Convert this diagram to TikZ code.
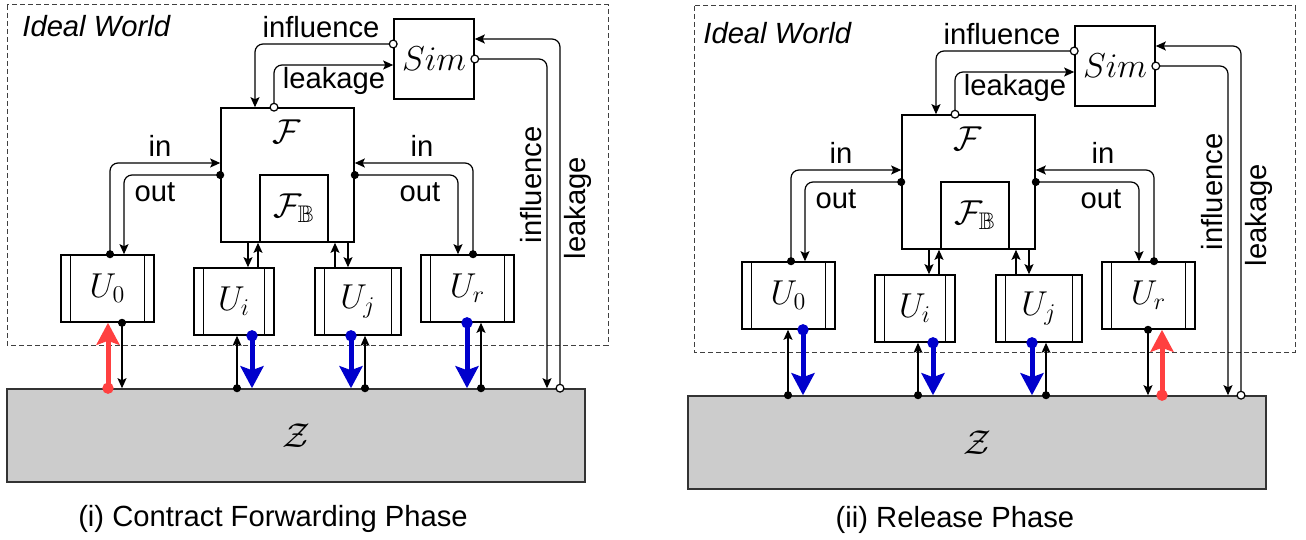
\documentclass[tikz,border=0pt]{standalone}
\usepackage{amssymb}
\usepackage[no-math]{fontspec}
\setmainfont{Liberation Sans}
\usetikzlibrary{arrows.meta}

\definecolor{linkred}{RGB}{255,64,64}
\definecolor{linkblue}{RGB}{0,0,204}

\tikzset{
  box/.style={draw, line width=0.8pt, inner sep=0pt, font=\fontsize{17.28}{21}\selectfont},
  party/.style={box, minimum height=33.5pt,
    path picture={\draw[line width=0.6pt]
      ([xshift=4.75pt]path picture bounding box.north west) -- ([xshift=4.75pt]path picture bounding box.south west)
      ([xshift=-4.75pt]path picture bounding box.north east) -- ([xshift=-4.75pt]path picture bounding box.south east);}},
  wire/.style={line width=0.6pt, rounded corners=4pt, -{Stealth[length=5pt,width=4.5pt,inset=1pt]}},
  dotwire/.style={wire, {Circle[length=4pt]}-{Stealth[length=5pt,width=4.5pt,inset=1pt]}, shorten <=-2pt},
  owire/.style={wire, {Circle[open,length=4.5pt,fill=white]}-{Stealth[length=5pt,width=4.5pt,inset=1pt]}, shorten <=-2.25pt},
  redup/.style={line width=2.5pt, linkred, {Circle[length=5.5pt]}-{Stealth[length=11pt,width=11.5pt,inset=2pt]}, shorten <=-2.75pt},
  bluedown/.style={line width=2.5pt, linkblue, {Circle[length=5.5pt]}-{Stealth[length=11pt,width=11.5pt,inset=2pt]}, shorten <=-2.75pt},
  world/.style={line width=0.5pt, black!75, dash pattern=on 2.5pt off 1.5pt}
}

% parts shared by both phases, in pixel units of the first panel
\newcommand\idealworld{%
  \node[anchor=west, inner sep=0pt] (title) at (22,26) {\itshape Ideal World};
  \node[box, minimum size=40pt] (Sim) at (434,59) {$Sim$};
  \node[box, minimum width=66.5pt, minimum height=67pt] (F) at (287.5,175) {};
  \node[box, minimum width=34pt, minimum height=33.5pt] (FB) at (294,208.5) {$\mathcal{F}_{\mathbb{B}}$};
  \node[font=\fontsize{17.28}{21}\selectfont] (Ftext) at (287,132) {$\mathcal{F}$};
  \node[party, minimum width=46.5pt] (U0) at (107.5,288.5) {$U_0$};
  \node[party, minimum width=40pt] (Ui) at (234,301.5) {$U_i$};
  \node[party, minimum width=43pt] (Uj) at (358,301.5) {$U_j$};
  \node[party, minimum width=46.5pt] (Ur) at (467.5,288.5) {$U_r$};
  \node[box, fill=black!20, draw=black!80, minimum width=289pt, minimum height=46.5pt] (Z) at (296,435.5) {$\mathcal{Z}$};
  % simulator
  \draw[owire] (Sim.west |- 0,44) -- (255,44) -- (255,0 |- F.north);
  \draw[owire] (274,0 |- F.north) -- (274,65) -- (Sim.west |- 0,65);
  \draw[owire] (560,0 |- Z.north) -- (560,39) -- (Sim.east |- 0,39);
  \draw[owire] (Sim.east |- 0,59) -- (547,59) -- (547,0 |- Z.north);
  \node (inflA) at (321,27) {influence};
  \node (leakA) at (334,81) {leakage};
  \node[rotate=90] (inflB) at (531,185) {influence};
  \node[rotate=90] (leakB) at (578,208) {leakage};
  % parties and functionality
  \draw[dotwire] (110,0 |- U0.north) -- (110,163) -- (F.west |- 0,163);
  \draw[dotwire] (F.west |- 0,175) -- (124,175) -- (124,0 |- U0.north);
  \draw[dotwire] (473,0 |- Ur.north) -- (473,163) -- (F.east |- 0,163);
  \draw[dotwire] (F.east |- 0,175) -- (458,175) -- (458,0 |- Ur.north);
  \node (inL) at (160,146) {in};
  \node (outL) at (155,192) {out};
  \node (inR) at (422,146) {in};
  \node (outR) at (420,192) {out};
  \draw[wire] (248,0 |- F.south) -- (248,0 |- Ui.north);
  \draw[wire] (258,0 |- Ui.north) -- (258,0 |- F.south);
  \draw[wire] (335,0 |- Uj.north) -- (335,0 |- F.south);
  \draw[wire] (348,0 |- F.south) -- (348,0 |- Uj.north);
  % environment
  \draw[dotwire] (237,0 |- Z.north) -- (237,0 |- Ui.south);
  \draw[bluedown] (252,0 |- Ui.south) -- (252,0 |- Z.north);
  \draw[bluedown] (351,0 |- Uj.south) -- (351,0 |- Z.north);
  \draw[dotwire] (365,0 |- Z.north) -- (365,0 |- Uj.south);
}

\begin{document}
\begin{tikzpicture}[x=0.5pt, y=-0.5pt, font=\fontsize{14.6}{17.5}\selectfont]
\useasboundingbox (0,0) rectangle (1306,540);

% (i) contract forwarding
\begin{scope}[name prefix=a-]
\draw[world] (7,5) rectangle (608,345);
\idealworld
\draw[redup] (108,0 |- Z.north) -- (108,0 |- U0.south);
\draw[dotwire] (122,0 |- U0.south) -- (122,0 |- Z.north);
\draw[bluedown] (467,0 |- Ur.south) -- (467,0 |- Z.north);
\draw[dotwire] (481,0 |- Z.north) -- (481,0 |- Ur.south);
\end{scope}
\node (capa) at (273,519) {(i) Contract Forwarding Phase};

% (ii) release
\begin{scope}[shift={(681,7)}, name prefix=b-]
\draw[world] (13,-1) rectangle (614,345);
\idealworld
\draw[dotwire] (107,0 |- Z.north) -- (107,0 |- U0.south);
\draw[bluedown] (122,0 |- U0.south) -- (122,0 |- Z.north);
\draw[dotwire] (467,0 |- Ur.south) -- (467,0 |- Z.north);
\draw[redup] (481,0 |- Z.north) -- (481,0 |- Ur.south);
\end{scope}
\node (capb) at (955,520) {(ii) Release Phase};
\end{tikzpicture}
\end{document}
